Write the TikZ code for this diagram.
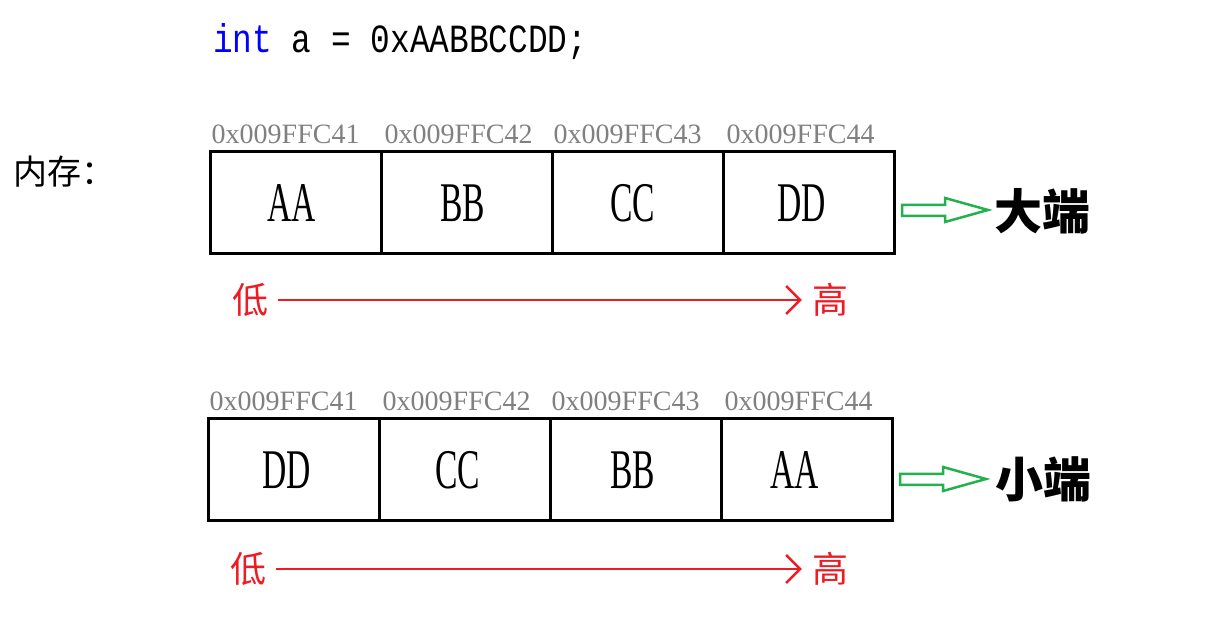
\documentclass[tikz,border=0pt]{standalone}
\usepackage{fontspec}
\setmainfont{Liberation Serif}
\newfontfamily\cjk{Noto Sans CJK SC}
\newfontfamily\narrowserif[FakeStretch=0.6]{Liberation Serif}
\newfontfamily\codefont[FakeStretch=0.82]{Liberation Mono}
\usetikzlibrary{arrows.meta}
\definecolor{lored}{RGB}{237,28,36}
\definecolor{ptgreen}{RGB}{34,177,76}
\definecolor{addrgray}{RGB}{128,128,128}
\definecolor{kwblue}{RGB}{0,0,255}
\newcommand{\cellleft}[2]{#2\kern#1pt}
\begin{document}
\begin{tikzpicture}[x=1pt, y=1pt,
  cell/.style={rectangle, draw=black, line width=3pt, minimum width=171pt, minimum height=102pt, inner sep=0pt, font={\narrowserif\fontsize{56}{56}\selectfont}},
  addr/.style={anchor=base west, inner sep=0pt, text=addrgray, font={\fontsize{28}{28}\selectfont}},
  endlabel/.style={inner sep=0pt, font={\cjk\bfseries\fontsize{48}{48}\selectfont}},
  ordlabel/.style={inner sep=0pt, text=lored, font={\cjk\fontsize{36}{36}\selectfont}},
  ordarrow/.style={draw=lored, line width=2.5pt, shorten <=10pt, shorten >=10pt, -{Straight Barb[length=14pt, width=28pt, line width=2.5pt]}},
  hollowarrow/.style={draw=ptgreen, line width=2.5pt, line join=miter}
]
\useasboundingbox (0,0) rectangle (1229,623);
% code line
\node[anchor=base west, inner sep=0pt, font={\codefont\fontsize{40}{40}\selectfont}] (code) at (213,570) {\textcolor{kwblue}{int} a = 0xAABBCCDD;};
\node[anchor=west, inner sep=0pt, font={\cjk\fontsize{34}{34}\selectfont}] (mem) at (13,451) {内存：};
% big endian
\node[cell] (b1) at (295.5,420) {\cellleft{8}{AA}};
\node[cell] (b2) at (466.5,420) {\cellleft{8}{BB}};
\node[cell] (b3) at (637.5,420) {\cellleft{10}{CC}};
\node[cell] (b4) at (808.5,420) {\cellleft{14}{DD}};
\node[addr] at ([xshift=3pt, yshift=7pt]b1.north west) {0x009FFC41};
\node[addr] at ([xshift=5pt, yshift=7pt]b2.north west) {0x009FFC42};
\node[addr] at ([xshift=3pt, yshift=7pt]b3.north west) {0x009FFC43};
\node[addr] at ([xshift=5pt, yshift=7pt]b4.north west) {0x009FFC44};
\draw[hollowarrow] (902,418) -- (945,418) -- (945,425) -- (988,413) -- (945,401) -- (945,407) -- (902,407) -- cycle;
\node[endlabel] (big) at (1042,412) {大端};
\node[ordlabel] (lo1) at (250,323) {低};
\node[ordlabel] (hi1) at (830,323) {高};
\draw[ordarrow] (lo1) -- (hi1);
% little endian
\node[cell] (s1) at (293.5,153) {\cellleft{14}{DD}};
\node[cell] (s2) at (464.5,153) {\cellleft{14}{CC}};
\node[cell] (s3) at (635.5,153) {\raisebox{-6pt}{\cellleft{6}{BB}}};
\node[cell] (s4) at (806.5,153) {\cellleft{24}{AA}};
\node[addr] at ([xshift=3pt, yshift=7pt]s1.north west) {0x009FFC41};
\node[addr] at ([xshift=5pt, yshift=7pt]s2.north west) {0x009FFC42};
\node[addr] at ([xshift=3pt, yshift=7pt]s3.north west) {0x009FFC43};
\node[addr] at ([xshift=5pt, yshift=7pt]s4.north west) {0x009FFC44};
\draw[hollowarrow] (900,149) -- (943,149) -- (943,156) -- (986,144) -- (943,132) -- (943,138) -- (900,138) -- cycle;
\node[endlabel] (little) at (1043,144) {小端};
\node[ordlabel] (lo2) at (248,54) {低};
\node[ordlabel] (hi2) at (830,54) {高};
\draw[ordarrow] (lo2) -- (hi2);
\end{tikzpicture}
\end{document}
